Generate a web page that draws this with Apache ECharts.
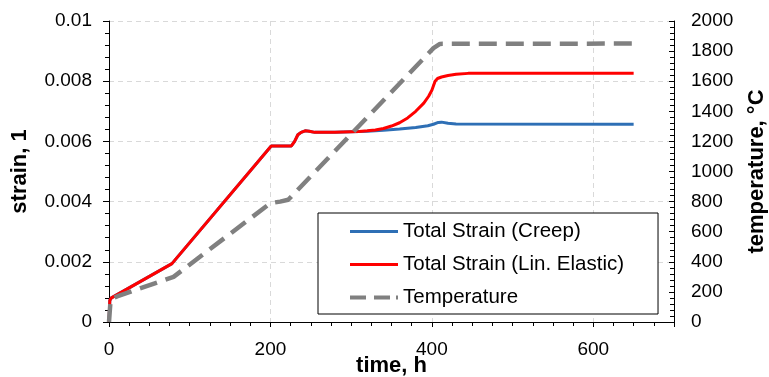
<!DOCTYPE html>
<html>
<head>
<meta charset="utf-8">
<script src="https://cdn.jsdelivr.net/npm/echarts@6/dist/echarts.min.js"></script>
<style>
  html, body { margin: 0; padding: 0; background: #fff; }
  #chart { width: 769px; height: 377px; }
</style>
</head>
<body>
<div id="chart"></div>
<script>
// time axis (h) and the three curves
var creepTime   = [0, 1, 3, 78, 201, 226, 230, 234, 238, 243, 248, 255, 280, 300, 320, 340, 360, 380, 395, 402, 408, 412, 420, 430, 650];
var creepStrain = [0, 0.00072, 0.0008, 0.00194, 0.00585, 0.00585, 0.006, 0.00622, 0.0063, 0.00635, 0.00634, 0.0063, 0.0063,
                   0.00632, 0.00634, 0.00637, 0.00641, 0.00646, 0.00652, 0.00657, 0.00663, 0.00664, 0.0066, 0.00658, 0.00657];

var elasticTime   = [0, 1, 3, 78, 201, 226, 230, 234, 238, 243, 248, 255, 280, 300, 310, 320, 330, 340, 350, 360, 370, 380,
                     390, 396, 400, 404, 407, 412, 420, 430, 445, 650];
var elasticStrain = [0, 0.00072, 0.0008, 0.00194, 0.00585, 0.00585, 0.006, 0.00622, 0.0063, 0.00635, 0.00634, 0.0063, 0.0063,
                     0.00632, 0.00633, 0.00635, 0.00638, 0.00643, 0.00651, 0.00662, 0.00678, 0.007, 0.00727, 0.0075,
                     0.0077, 0.008, 0.00809, 0.00814, 0.00819, 0.00823, 0.00826, 0.00826];

var tempTime  = [0, 2, 10, 80, 200, 212, 222, 402, 410, 650];
var tempValue = [0, 150, 170, 300, 790, 800, 812, 1820, 1848, 1850];

var seriesNames = ['Total Strain (Creep)', 'Total Strain (Lin. Elastic)', 'Temperature'];
var strainTicks = ['0', '0.002', '0.004', '0.006', '0.008', '0.01'];
var tempTicks   = ['0', '200', '400', '600', '800', '1000', '1200', '1400', '1600', '1800', '2000'];
var timeTicks   = ['0', '200', '400', '600'];

function zip(xs, ys) {
    var out = [];
    for (var i = 0; i < xs.length; i++) out.push([xs[i], ys[i]]);
    return out;
}

var FONT = '"Liberation Sans", Arial, sans-serif';
// legend swatches: solid bar and dashed bar
var SOLID_ICON  = 'path://M0,0H48V3H0Z';
var DASHED_ICON = 'path://M0,0H16V4H0Z M24,0H40V4H24Z M46,0H48V4H46Z';

var chart = echarts.init(document.getElementById('chart'));
chart.setOption({
    animation: false,
    backgroundColor: '#fff',
    textStyle: { fontFamily: FONT, color: '#000' },
    grid: { left: 109, right: 95, top: 21, bottom: 55, outerBoundsMode: 'none' },
    legend: {
        orient: 'vertical',
        left: 318, top: 213,
        padding: [8, 34, 6, 32],
        itemGap: 12,
        itemWidth: 48,
        itemHeight: 4,
        borderColor: '#000',
        borderWidth: 1,
        backgroundColor: '#fff',
        textStyle: { fontSize: 20.5, fontFamily: FONT, color: '#000', lineHeight: 20 },
        data: [
            { name: seriesNames[0], icon: SOLID_ICON },
            { name: seriesNames[1], icon: SOLID_ICON },
            { name: seriesNames[2], icon: DASHED_ICON }
        ]
    },
    xAxis: {
        type: 'value',
        min: 0, max: 700, interval: 200,
        name: 'time, h',
        nameLocation: 'middle',
        nameGap: 33,
        nameMoveOverlap: false,
        nameTextStyle: { fontSize: 22, fontWeight: 'bold', fontFamily: FONT, color: '#000' },
        axisLine: { lineStyle: { color: '#000', width: 1 } },
        axisTick: { inside: false, length: 5, lineStyle: { color: '#000' } },
        minorTick: { show: true, splitNumber: 8, length: 4, lineStyle: { color: '#000' } },
        axisLabel: {
            fontSize: 19, color: '#000', margin: 18,
            formatter: function (v) { return timeTicks[Math.round(v / 200)] || ''; }
        },
        splitLine: { show: true, lineStyle: { color: '#d9d9d9', type: [5, 4], width: 1 } }
    },
    yAxis: [{
        type: 'value',
        min: 0, max: 0.01, interval: 0.002,
        name: 'strain, 1',
        nameLocation: 'middle',
        nameGap: 78,
        nameMoveOverlap: false,
        nameTextStyle: { fontSize: 22, fontWeight: 'bold', fontFamily: FONT, color: '#000' },
        axisLine: { show: true, lineStyle: { color: '#000', width: 1 } },
        axisTick: { show: true, inside: false, length: 6, lineStyle: { color: '#000' } },
        minorTick: { show: true, splitNumber: 5, length: 4, lineStyle: { color: '#000' } },
        axisLabel: {
            fontSize: 19, color: '#000', margin: 17,
            formatter: function (v) { return strainTicks[Math.round(v / 0.002)]; }
        },
        splitLine: { show: true, lineStyle: { color: '#d9d9d9', type: [5, 4], width: 1 } }
    }, {
        type: 'value',
        position: 'right',
        min: 0, max: 2000, interval: 200,
        name: 'temperature, °C',
        nameLocation: 'middle',
        nameGap: 72,
        nameRotate: 90,
        nameMoveOverlap: false,
        nameTextStyle: { fontSize: 22, fontWeight: 'bold', fontFamily: FONT, color: '#000' },
        axisLine: { show: true, lineStyle: { color: '#000', width: 1 } },
        axisTick: { show: true, inside: true, length: 5, lineStyle: { color: '#000' } },
        minorTick: { show: true, splitNumber: 5, length: 4, lineStyle: { color: '#000' } },
        axisLabel: {
            fontSize: 19, color: '#000', margin: 17,
            formatter: function (v) { return tempTicks[Math.round(v / 200)]; }
        },
        splitLine: { show: false }
    }],
    series: [{
        name: seriesNames[0],
        type: 'line',
        yAxisIndex: 0,
        symbol: 'none',
        lineStyle: { color: '#2e6fb5', width: 3 },
        itemStyle: { color: '#2e6fb5' },
        data: zip(creepTime, creepStrain),
        z: 2
    }, {
        name: seriesNames[1],
        type: 'line',
        yAxisIndex: 0,
        symbol: 'none',
        lineStyle: { color: '#ff0000', width: 3 },
        itemStyle: { color: '#ff0000' },
        data: zip(elasticTime, elasticStrain),
        z: 3
    }, {
        name: seriesNames[2],
        type: 'line',
        yAxisIndex: 1,
        symbol: 'none',
        lineStyle: { color: '#808080', width: 4.5, type: [18, 9] },
        itemStyle: { color: '#808080' },
        data: zip(tempTime, tempValue),
        z: 4
    }]
});
</script>
</body>
</html>
